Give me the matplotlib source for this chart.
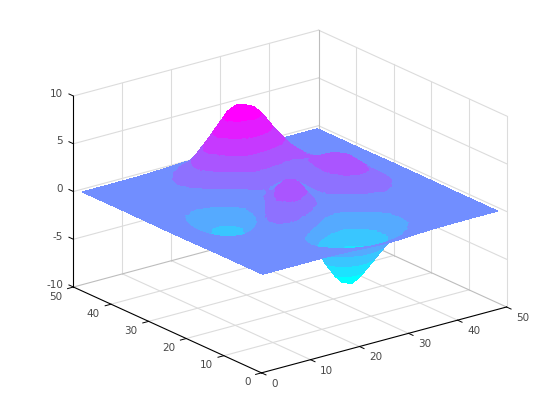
import numpy as np
import matplotlib
matplotlib.use('Agg')
import matplotlib.pyplot as plt
from mpl_toolkits.mplot3d import proj3d
from mpl_toolkits.mplot3d.art3d import Poly3DCollection

# surface heights, rows go along y, columns along x
xs = list(range(1, 50, 2))
ys = list(range(1, 50, 2))
zs = [
    [0, 0, 0, 0, 0, .01, .01, 0, -.03, -.07, -.13, -.19, -.24, -.25, -.22, -.17, -.11, -.06, -.03, -.01, -.01, 0, 0, 0, 0],
    [0, 0, 0, 0, .01, .01, 0, -.02, -.10, -.22, -.39, -.56, -.68, -.69, -.61, -.46, -.30, -.17, -.08, -.03, -.01, 0, 0, 0, 0],
    [0, 0, 0, .01, .02, .02, 0, -.07, -.23, -.53, -.92, -1.31, -1.57, -1.61, -1.41, -1.06, -.69, -.38, -.19, -.08, -.03, -.01, 0, 0, 0],
    [0, 0, .01, .01, .03, .04, .01, -.12, -.44, -1.00, -1.74, -2.51, -3.02, -3.10, -2.72, -2.05, -1.32, -.74, -.35, -.14, -.05, -.01, 0, 0, 0],
    [0, 0, .01, .02, .05, .07, .05, -.13, -.59, -1.45, -2.64, -3.88, -4.76, -4.93, -4.35, -3.27, -2.10, -1.15, -.53, -.20, -.06, -.01, 0, 0, 0],
    [0, 0, .01, .03, .07, .13, .15, .02, -.46, -1.48, -3.01, -4.70, -5.98, -6.33, -5.64, -4.24, -2.69, -1.42, -.61, -.20, -.05, 0, .01, 0, 0],
    [0, 0, .01, .03, .08, .19, .33, .39, .15, -.68, -2.18, -4.07, -5.68, -6.32, -5.76, -4.31, -2.63, -1.27, -.44, -.07, .04, .05, .03, .01, 0],
    [0, -.01, -.01, -.01, .03, .17, .45, .84, 1.11, .88, -.14, -1.84, -3.60, -4.60, -4.40, -3.22, -1.74, -.56, .08, .27, .23, .13, .06, .02, .01],
    [-.01, -.03, -.06, -.10, -.13, -.04, .30, .98, 1.86, 2.45, 2.23, 1.00, -.72, -2.02, -2.22, -1.43, -.27, .58, .88, .77, .50, .26, .11, .04, .01],
    [-.02, -.05, -.12, -.25, -.42, -.51, -.28, .50, 1.78, 3.09, 3.63, 2.94, 1.40, -.01, -.41, .20, 1.18, 1.79, 1.78, 1.35, .82, .41, .18, .07, .02],
    [-.03, -.08, -.20, -.44, -.80, -1.16, -1.21, -.60, .80, 2.49, 3.55, 3.31, 2.00, .70, .39, 1.14, 2.20, 2.76, 2.56, 1.88, 1.12, .56, .24, .09, .03],
    [-.03, -.10, -.27, -.60, -1.14, -1.78, -2.16, -1.84, -.56, 1.23, 2.56, 2.63, 1.58, .53, .48, 1.50, 2.76, 3.37, 3.09, 2.25, 1.34, .67, .28, .10, .03],
    [-.04, -.11, -.30, -.69, -1.33, -2.14, -2.77, -2.71, -1.65, .06, 1.48, 1.75, .98, .19, .38, 1.57, 2.94, 3.58, 3.27, 2.37, 1.41, .70, .30, .11, .03],
    [-.04, -.11, -.29, -.67, -1.32, -2.16, -2.87, -2.98, -2.15, -.65, .68, 1.06, .52, -.03, .28, 1.47, 2.76, 3.36, 3.06, 2.22, 1.32, .66, .28, .10, .03],
    [-.03, -.09, -.25, -.57, -1.12, -1.85, -2.49, -2.64, -2.00, -.76, .39, .80, .46, .09, .38, 1.34, 2.38, 2.83, 2.56, 1.85, 1.09, .54, .23, .08, .03],
    [-.02, -.07, -.18, -.42, -.82, -1.33, -1.76, -1.78, -1.16, -.05, 1.04, 1.55, 1.42, 1.12, 1.17, 1.65, 2.17, 2.32, 1.99, 1.40, .82, .40, .17, .06, .02],
    [-.01, -.04, -.11, -.25, -.48, -.74, -.86, -.60, .23, 1.51, 2.79, 3.59, 3.69, 3.34, 2.94, 2.66, 2.44, 2.09, 1.58, 1.04, .58, .28, .11, .04, .01],
    [-.01, -.02, -.06, -.12, -.20, -.23, -.05, .55, 1.69, 3.29, 4.92, 6.06, 6.39, 5.94, 5.02, 3.97, 2.97, 2.09, 1.35, .79, .41, .19, .07, .03, .01],
    [0, -.01, -.02, -.03, -.01, .11, .48, 1.27, 2.61, 4.37, 6.19, 7.54, 7.99, 7.48, 6.25, 4.72, 3.25, 2.05, 1.19, .62, .29, .12, .05, .02, 0],
    [0, 0, 0, .01, .07, .24, .65, 1.43, 2.67, 4.29, 5.96, 7.22, 7.68, 7.20, 5.99, 4.45, 2.96, 1.78, .96, .47, .21, .08, .03, .01, 0],
    [0, 0, .01, .02, .08, .23, .55, 1.16, 2.10, 3.31, 4.56, 5.51, 5.86, 5.50, 4.57, 3.37, 2.21, 1.29, .68, .32, .13, .05, .02, .01, 0],
    [0, 0, .01, .02, .06, .16, .36, .74, 1.32, 2.07, 2.84, 3.43, 3.65, 3.43, 2.84, 2.09, 1.36, .79, .41, .19, .08, .03, .01, 0, 0],
    [0, 0, 0, .01, .03, .08, .19, .39, .69, 1.07, 1.47, 1.77, 1.89, 1.77, 1.47, 1.08, .70, .40, .21, .09, .04, .01, .01, 0, 0],
    [0, 0, 0, .01, .01, .04, .09, .17, .30, .47, .64, .77, .82, .77, .64, .47, .30, .17, .09, .04, .01, .01, 0, 0, 0],
    [0, 0, 0, 0, .01, .01, .03, .06, .11, .17, .23, .27, .29, .27, .23, .17, .11, .06, .03, .01, .01, 0, 0, 0, 0],
]

# colour bands of the surface
band_edges = [-6.55, -5.08, -3.62, -2.15, -0.69, 0.78, 2.24, 3.71, 5.18, 6.64, 8.11]

x_ticks = [0, 10, 20, 30, 40, 50]
y_ticks = [0, 10, 20, 30, 40, 50]
z_ticks = [-10, -5, 0, 5, 10]

TICK_GREY = '#484848'
GRID = '#dcdcdc'
BOX = '#bdbdbd'


def clip(poly, level, keep_above):
    # cut a flat polygon where it crosses a height, keep one side
    out = []
    for i in range(len(poly)):
        p = poly[i]
        q = poly[(i + 1) % len(poly)]
        p_in = p[2] >= level if keep_above else p[2] <= level
        q_in = q[2] >= level if keep_above else q[2] <= level
        if p_in:
            out.append(p)
        if p_in != q_in:
            t = (level - p[2]) / (q[2] - p[2])
            out.append((p[0] + t * (q[0] - p[0]), p[1] + t * (q[1] - p[1]), level))
    return out


def tick_label(x, y, z, s, ha):
    # put the label where the 3d point lands on screen
    px, py, _ = proj3d.proj_transform(x, y, z, ax.get_proj())
    ax.text2D(px, py, s, transform=ax.transData, ha=ha, va='center', fontsize=7.5,
              color=TICK_GREY, zorder=4)


fig = plt.figure(figsize=(5.6, 4.2), dpi=100)
# big axes box so nothing gets clipped, centre of the cube stays at (290, 201.5)
ax = fig.add_axes([12.7 / 560, -58.8 / 420, 540 / 560, 540 / 420], projection='3d')
ax.set_proj_type('ortho')
ax.set_box_aspect((309, 309, 204), zoom=0.8667)
ax.view_init(elev=20.5, azim=-127.5)
ax.set_xlim(0, 50)
ax.set_ylim(0, 50)
ax.set_zlim(-10, 10)
ax.set_xticks([])
ax.set_yticks([])
ax.set_zticks([])
ax.set_axis_off()
ax.computed_zorder = False

# grid on floor and the two back walls
for t in x_ticks[1:-1]:
    ax.plot([t, t], [0, 50], [-10, -10], color=GRID, lw=0.8, zorder=1)
    ax.plot([t, t], [50, 50], [-10, 10], color=GRID, lw=0.8, zorder=1)
for t in y_ticks[1:-1]:
    ax.plot([0, 50], [t, t], [-10, -10], color=GRID, lw=0.8, zorder=1)
    ax.plot([50, 50], [t, t], [-10, 10], color=GRID, lw=0.8, zorder=1)
for t in z_ticks[1:]:
    ax.plot([0, 50], [50, 50], [t, t], color=GRID, lw=0.8, zorder=1)
    ax.plot([50, 50], [0, 50], [t, t], color=GRID, lw=0.8, zorder=1)
ax.plot([50, 50], [0, 0], [-10, 10], color=GRID, lw=0.8, zorder=1)
ax.plot([50, 50], [50, 50], [-10, 10], color=BOX, lw=0.8, zorder=1)
ax.plot([0, 50], [50, 50], [-10, -10], color=BOX, lw=0.8, zorder=1)
ax.plot([50, 50], [0, 50], [-10, -10], color=BOX, lw=0.8, zorder=1)

# surface: every triangle of the grid cut up along the bands
cmap = plt.get_cmap('cool', len(band_edges) - 1)
polys = []
colors = []
for j in range(len(ys) - 1):
    for i in range(len(xs) - 1):
        p00 = (xs[i], ys[j], zs[j][i])
        p10 = (xs[i + 1], ys[j], zs[j][i + 1])
        p11 = (xs[i + 1], ys[j + 1], zs[j + 1][i + 1])
        p01 = (xs[i], ys[j + 1], zs[j + 1][i])
        # diagonal runs across the screen, keeps the outline of the hill rounder
        for tri in ([p00, p10, p01], [p10, p11, p01]):
            for b in range(len(band_edges) - 1):
                part = clip(tri, band_edges[b], True)
                if part:
                    part = clip(part, band_edges[b + 1], False)
                if len(part) >= 3:
                    polys.append(part)
                    colors.append(cmap(b))

surf = Poly3DCollection(polys, facecolors=colors, edgecolors='none', linewidths=0,
                        antialiased=False, zorder=2)
ax.add_collection3d(surf)

# axis lines in front
ax.plot([0, 50], [0, 0], [-10, -10], color='k', lw=0.8, zorder=3)
ax.plot([0, 0], [0, 50], [-10, -10], color='k', lw=0.8, zorder=3)
ax.plot([0, 0], [50, 50], [-10, 10], color='k', lw=0.8, zorder=3)
for t in x_ticks:
    ax.plot([t, t], [0, -1.2], [-10, -10], color='k', lw=0.7, zorder=3)
    tick_label(t - 1.88, -4.95, -10, str(t), 'left')
for t in y_ticks:
    ax.plot([0, -1.2], [t, t], [-10, -10], color='k', lw=0.7, zorder=3)
    tick_label(-4.08, t - 2.39, -10, str(t), 'right')
for t in z_ticks:
    ax.plot([0, 0], [50, 51.2], [t, t], color='k', lw=0.7, zorder=3)
    tick_label(0, 52.78, t - 0.24, str(t), 'right')

fig.savefig('out.png', dpi=100, facecolor='white')
